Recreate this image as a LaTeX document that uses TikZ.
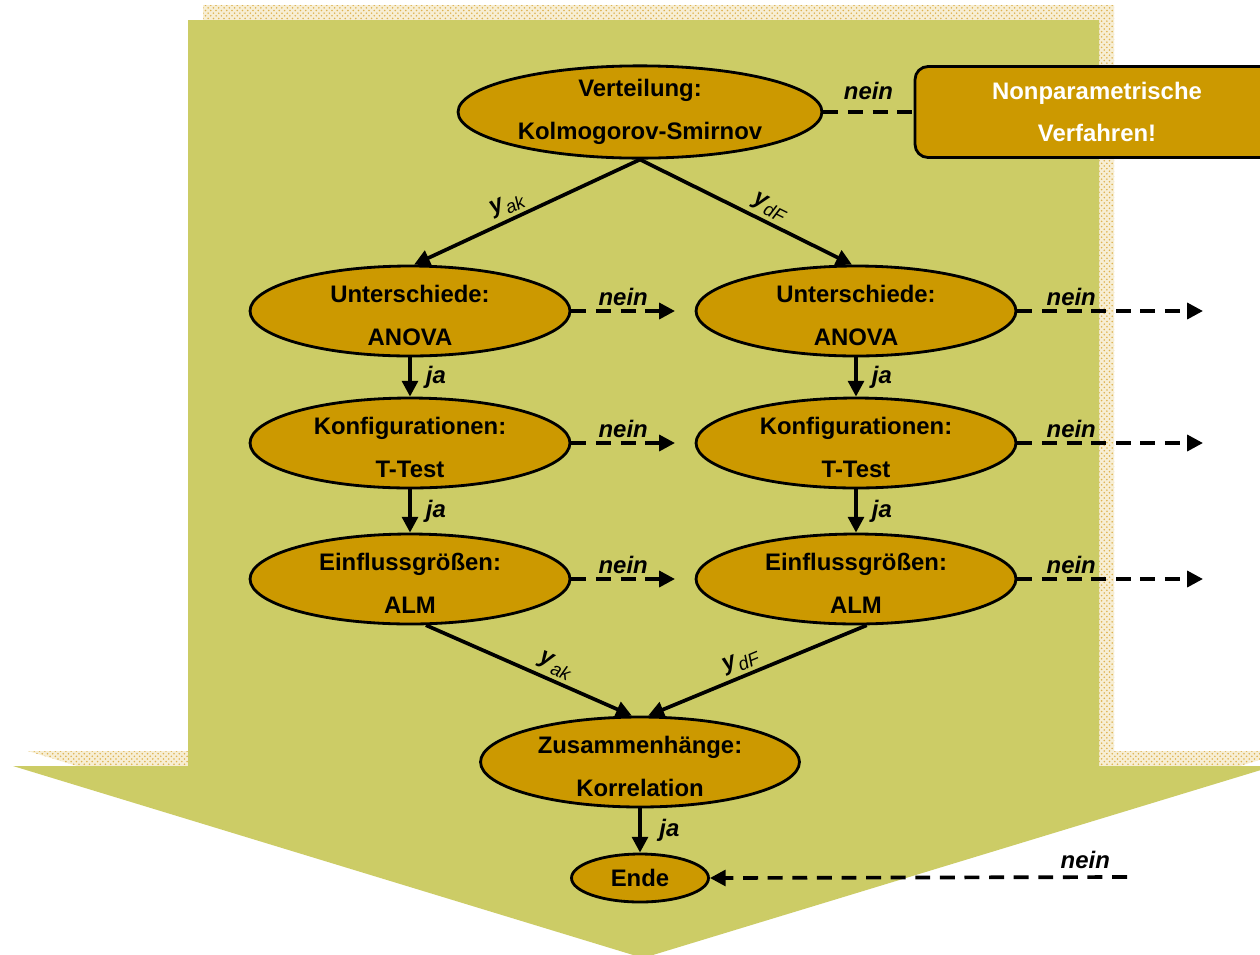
\documentclass[tikz,border=0pt]{standalone}
\usepackage{fontspec}
\setmainfont{Liberation Sans}
\usetikzlibrary{shapes.geometric,arrows.meta,patterns}
\definecolor{bgolive}{RGB}{204,204,102}
\definecolor{nodegold}{RGB}{204,153,0}
\definecolor{shadowtan}{RGB}{247,238,212}
\definecolor{graintan}{RGB}{222,178,80}
\tikzset{
  ell/.style={ellipse, draw=black, line width=1.6pt, fill=nodegold, inner sep=0pt,
    align=center, font=\bfseries\fontsize{13.6}{24.4}\selectfont},
  rowell/.style={ell, minimum width=6.4cm, minimum height=1.8cm},
  lbl/.style={font=\bfseries\itshape\fontsize{13.6}{16}\selectfont, inner sep=2pt},
  sublbl/.style={font=\fontsize{13.6}{16}\selectfont, inner sep=2pt},
  flow/.style={line width=2.1pt, -{Triangle[length=9pt,width=9pt]}},
  alt/.style={flow, dash pattern=on 8.5pt off 5.5pt},
  altplain/.style={line width=2.1pt, dash pattern=on 8.5pt off 5.5pt},
}
% two centred lines, set a little below the middle of their ellipse
% (zero-size box, so the ellipse keeps its minimum size)
\newcommand{\twoline}[2]{\raisebox{-5.9pt}[0pt][0pt]{\begin{tabular}{@{}c@{}}#1\\#2\end{tabular}}}
% y with a subscript, as used on the branch connectors
\newcommand{\ysub}[1]{{\bfseries\itshape y}\kern0.6pt\raisebox{-3.5pt}{\fontsize{10.5}{12}\selectfont\itshape #1}}
\begin{document}
\begin{tikzpicture}[x=0.02cm, y=-0.02cm]
  \clip (0,0) rectangle (1260,954);
  \fill[white] (0,0) rectangle (1260,954);

  % grainy shadow of the large downward arrow
  \path[fill=shadowtan] (203,5) -- (1114,5) -- (1114,751) -- (1289,751) -- (658,943)
    -- (28,751) -- (203,751) -- cycle;
  \path[pattern=crosshatch dots, pattern color=graintan] (203,5) -- (1114,5) -- (1114,751)
    -- (1289,751) -- (658,943) -- (28,751) -- (203,751) -- cycle;
  % large downward arrow
  \fill[bgolive] (188,20) -- (1099,20) -- (1099,766) -- (1274,766) -- (643,958)
    -- (13,766) -- (188,766) -- cycle;

  % nodes
  \node[ell, minimum width=7.28cm, minimum height=1.8cm] (K) at (640,112)
    {Verteilung:\\Kolmogorov-Smirnov};
  \node[draw=black, line width=1.6pt, fill=nodegold, rounded corners=0.26cm,
    minimum width=7.28cm, minimum height=1.82cm, align=center, text=white,
    font=\bfseries\fontsize{13.6}{24.4}\selectfont] (NP) at (1097,112)
    {Nonparametrische\\Verfahren!};

  \node[rowell] (U1) at (410,311) {\twoline{Unterschiede:}{ANOVA}};
  \node[rowell] (U2) at (856,311) {\twoline{Unterschiede:}{ANOVA}};
  \node[rowell] (T1) at (410,443) {\twoline{Konfigurationen:}{T-Test}};
  \node[rowell] (T2) at (856,443) {\twoline{Konfigurationen:}{T-Test}};
  \node[rowell] (A1) at (410,579) {\twoline{Einflussgrößen:}{ALM}};
  \node[rowell] (A2) at (856,579) {\twoline{Einflussgrößen:}{ALM}};
  \node[ell, minimum width=6.38cm, minimum height=1.8cm] (Z) at (640,762)
    {\twoline{Zusammenhänge:}{Korrelation}};
  \node[ell, minimum width=2.74cm, minimum height=0.96cm] (E) at (640,878) {Ende};

  % free ends of the dashed exits
  \coordinate (xU1) at (675,311);
  \coordinate (xT1) at (675,443);
  \coordinate (xA1) at (675,579);
  \coordinate (xU2) at (1203,311);
  \coordinate (xT2) at (1203,443);
  \coordinate (xA2) at (1203,579);
  \coordinate (inE) at (1127,877);

  % connectors
  \draw[altplain] (K.east) -- node[lbl, above, yshift=4pt] {nein} (NP.west);

  \draw[flow] (K.south) -- node[sublbl, pos=0.56, above, sloped] {\ysub{ak}} (U1.85);
  \draw[flow] (K.south) -- node[sublbl, pos=0.58, above, sloped] {\ysub{dF}} (U2.95);

  \draw[flow] (U1) -- node[lbl, right, xshift=6pt] {ja} (T1);
  \draw[flow] (T1) -- node[lbl, right, xshift=6pt] {ja} (A1);
  \draw[flow] (U2) -- node[lbl, right, xshift=6pt] {ja} (T2);
  \draw[flow] (T2) -- node[lbl, right, xshift=6pt] {ja} (A2);

  \draw[alt] (U1.east) -- node[lbl, above] {nein} (xU1);
  \draw[alt] (T1.east) -- node[lbl, above] {nein} (xT1);
  \draw[alt] (A1.east) -- node[lbl, above] {nein} (xA1);
  \draw[alt] (U2.east) -- node[lbl, above, pos=0.29] {nein} (xU2);
  \draw[alt] (T2.east) -- node[lbl, above, pos=0.29] {nein} (xT2);
  \draw[alt] (A2.east) -- node[lbl, above, pos=0.29] {nein} (xA2);

  \draw[flow] (A1.-71) -- node[sublbl, pos=0.6, above, sloped] {\ysub{ak}} (Z.100);
  \draw[flow] (A2.-77) -- node[sublbl, pos=0.55, above, sloped] {\ysub{dF}} (Z.80);

  \draw[flow] (Z) -- node[lbl, right, xshift=8pt] {ja} (E);
  \draw[alt] (inE) -- node[lbl, above, pos=0.1, yshift=2pt] {nein} (E.east);
\end{tikzpicture}
\end{document}
